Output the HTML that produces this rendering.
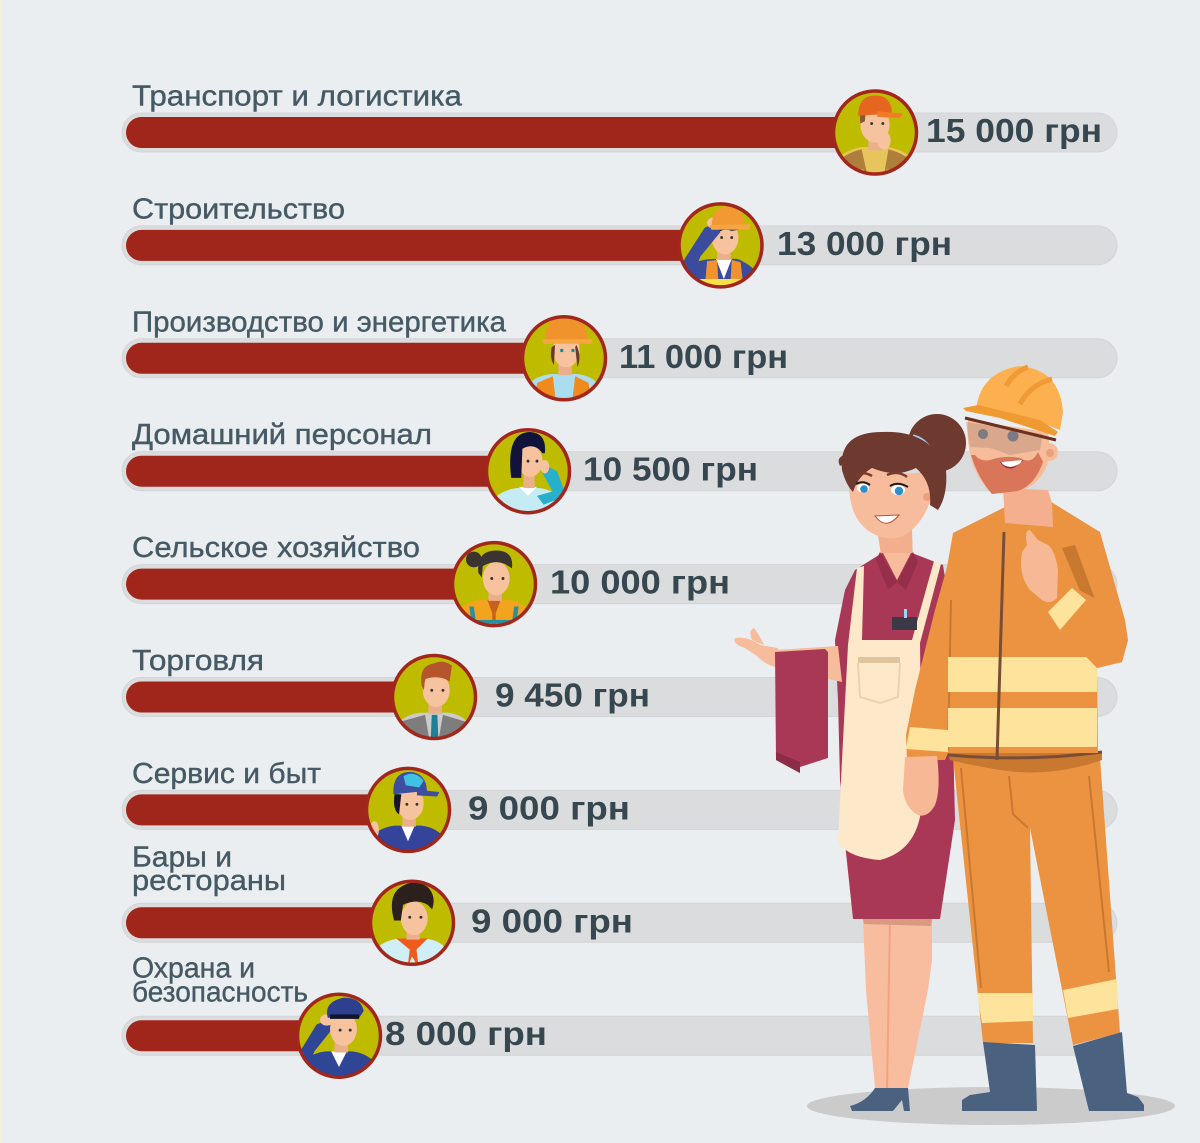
<!DOCTYPE html>
<html><head><meta charset="utf-8"><style>
html,body{margin:0;padding:0;background:#ebeef1;}
svg{display:block;}
.lb{font-family:"Liberation Sans","Noto Sans CJK SC",sans-serif;font-size:29px;fill:#465a65;stroke:#465a65;stroke-width:0.4;}
.vl{font-family:"Liberation Sans","Noto Sans CJK SC",sans-serif;font-size:33px;font-weight:bold;fill:#37474f;}
</style></head><body>
<svg width="1200" height="1143" viewBox="0 0 1200 1143" xmlns="http://www.w3.org/2000/svg">
<defs><clipPath id="cc"><circle cx="0" cy="0" r="41"/></clipPath></defs>
<rect width="1200" height="1143" fill="#ebeef1"/>
<rect x="0" y="0" width="1.5" height="1143" fill="#f1f2d6"/>

<!-- tracks -->
<g fill="#dbdcde" stroke="#d3d4d6" stroke-width="1">
<rect x="122" y="113" width="995" height="39" rx="19.5"/>
<rect x="122" y="225.9" width="995" height="39" rx="19.5"/>
<rect x="122" y="338.8" width="995" height="39" rx="19.5"/>
<rect x="122" y="451.7" width="995" height="39" rx="19.5"/>
<rect x="122" y="564.6" width="995" height="39" rx="19.5"/>
<rect x="122" y="677.5" width="995" height="39" rx="19.5"/>
<rect x="122" y="790.4" width="995" height="39" rx="19.5"/>
<rect x="122" y="903.3" width="995" height="39" rx="19.5"/>
<rect x="122" y="1016.2" width="995" height="39" rx="19.5"/>
</g>
<!-- red bars -->
<g fill="#a0251a">
<rect x="126" y="117" width="749" height="31" rx="15.5"/>
<rect x="126" y="229.9" width="595" height="31" rx="15.5"/>
<rect x="126" y="342.8" width="438" height="31" rx="15.5"/>
<rect x="126" y="455.7" width="402" height="31" rx="15.5"/>
<rect x="126" y="568.6" width="368" height="31" rx="15.5"/>
<rect x="126" y="681.5" width="308" height="31" rx="15.5"/>
<rect x="126" y="794.4" width="282" height="31" rx="15.5"/>
<rect x="126" y="907.3" width="286" height="31" rx="15.5"/>
<rect x="126" y="1020.2" width="213" height="31" rx="15.5"/>
</g>

<!-- labels -->
<text class="lb" x="132" y="105.5" textLength="330" lengthAdjust="spacingAndGlyphs">Транспорт и логистика</text>
<text class="lb" x="132" y="218.4" textLength="213" lengthAdjust="spacingAndGlyphs">Строительство</text>
<text class="lb" x="132" y="331.3" textLength="374" lengthAdjust="spacingAndGlyphs">Производство и энергетика</text>
<text class="lb" x="132" y="444.2" textLength="300" lengthAdjust="spacingAndGlyphs">Домашний персонал</text>
<text class="lb" x="132" y="557.1" textLength="288" lengthAdjust="spacingAndGlyphs">Сельское хозяйство</text>
<text class="lb" x="132" y="670" textLength="132" lengthAdjust="spacingAndGlyphs">Торговля</text>
<text class="lb" x="132" y="782.9" textLength="189" lengthAdjust="spacingAndGlyphs">Сервис и быт</text>
<text class="lb" x="132" y="866.7" textLength="100" lengthAdjust="spacingAndGlyphs">Бары и</text>
<text class="lb" x="132" y="890" textLength="154" lengthAdjust="spacingAndGlyphs">рестораны</text>
<text class="lb" x="132" y="977.7" textLength="123" lengthAdjust="spacingAndGlyphs">Охрана и</text>
<text class="lb" x="132" y="1001.7" textLength="176" lengthAdjust="spacingAndGlyphs">безопасность</text>

<!-- values -->
<text class="vl" x="926" y="142" textLength="176" lengthAdjust="spacingAndGlyphs">15 000 грн</text>
<text class="vl" x="777" y="254.9" textLength="175" lengthAdjust="spacingAndGlyphs">13 000 грн</text>
<text class="vl" x="619" y="367.8" textLength="169" lengthAdjust="spacingAndGlyphs">11 000 грн</text>
<text class="vl" x="583" y="480.7" textLength="175" lengthAdjust="spacingAndGlyphs">10 500 грн</text>
<text class="vl" x="550" y="593.6" textLength="180" lengthAdjust="spacingAndGlyphs">10 000 грн</text>
<text class="vl" x="495" y="706.5" textLength="155" lengthAdjust="spacingAndGlyphs">9 450 грн</text>
<text class="vl" x="468" y="819.4" textLength="162" lengthAdjust="spacingAndGlyphs">9 000 грн</text>
<text class="vl" x="471" y="932.3" textLength="162" lengthAdjust="spacingAndGlyphs">9 000 грн</text>
<text class="vl" x="385" y="1045.2" textLength="162" lengthAdjust="spacingAndGlyphs">8 000 грн</text>

<!-- avatar 1 -->
<g transform="translate(875,132.5)">
<circle r="42" fill="#bfbc00"/>
<g clip-path="url(#cc)"><g transform="scale(1.12)">
<path d="M-42 50 L-38 30 Q-32 17 -12 13 L12 13 Q32 17 38 30 L42 50Z" fill="#e8c45c"/>
<path d="M-38 50 L-34 28 Q-28 19 -12 15 L-4 50Z" fill="#ad7f3a"/>
<path d="M38 50 L34 28 Q28 19 12 15 L6 50Z" fill="#ad7f3a"/>
<rect x="-22" y="33" width="12" height="5" fill="#dcc07a"/><rect x="10" y="33" width="12" height="5" fill="#dcc07a"/>
<rect x="-6" y="0" width="12" height="16" fill="#eab08c"/>
<ellipse cx="0" cy="-7" rx="13" ry="16" fill="#f6c39e"/>
<path d="M-13 -8 Q-15 -20 -8 -22 L-9 -10Z" fill="#8b5a2b"/>
<path d="M-15 -15 Q-15 -33 0 -33 Q15 -33 15 -17Z" fill="#e5661e"/>
<path d="M2 -19 L25 -17 L22 -13 L2 -14Z" fill="#f27a28"/>
<circle cx="-3" cy="-8" r="1.3" fill="#333"/><circle cx="7" cy="-8" r="1.3" fill="#333"/>
<ellipse cx="8" cy="7" rx="6" ry="8" fill="#f6c39e"/>
</g></g>
<circle r="41.5" fill="none" stroke="#a1261b" stroke-width="3.5"/>
</g>

<!-- avatar 2 -->
<g transform="translate(720.5,245.4)">
<circle r="42" fill="#bfbc00"/>
<g clip-path="url(#cc)"><g transform="scale(1.12)">
<path d="M-42 50 L-38 26 Q-25 12 -5 12 L15 12 Q30 18 36 30 L42 50Z" fill="#3b4c9f"/>
<polygon points="-4,12 10,12 3,30" fill="#ffffff"/>
<polygon points="-12,14 -3,13 -1,50 -15,50" fill="#f0932f"/>
<polygon points="10,13 18,15 22,50 8,50" fill="#f0932f"/>
<rect x="-42" y="30" width="84" height="6" fill="#f8e04a"/>
<rect x="-3" y="-2" width="12" height="15" fill="#eab08c"/>
<ellipse cx="4" cy="-7" rx="12" ry="15" fill="#f6c39e"/>
<path d="M-8 -14 Q-6 -22 6 -20 Q14 -20 16 -14 L10 -13 Q2 -16 -4 -10Z" fill="#1a1a2a"/>
<path d="M-42 40 L-32 12 L-14 -16 L-4 -20 L0 -12 L-18 10 L-28 36Z" fill="#3b4c9f"/>
<ellipse cx="-6" cy="-20" rx="6" ry="5" fill="#f6c39e"/>
<path d="M-8 -16 Q-8 -35 7 -35 Q21 -34 21 -18Z" fill="#f29934"/>
<polygon points="-10,-18 27,-19 25,-14 -8,-14" fill="#f6a640"/>
<circle cx="1" cy="-7" r="1.3" fill="#333"/><circle cx="10" cy="-7" r="1.3" fill="#333"/>
</g></g>
<circle r="41.5" fill="none" stroke="#a1261b" stroke-width="3.5"/>
</g>

<!-- avatar 3 -->
<g transform="translate(564,358.3)">
<circle r="42" fill="#bfbc00"/>
<g clip-path="url(#cc)"><g transform="scale(1.12)">
<path d="M-40 50 L-36 28 Q-28 16 -12 14 L12 14 Q28 16 34 28 L40 50Z" fill="#a9ddef"/>
<polygon points="-24,22 -10,16 -6,50 -28,50" fill="#f08a1d"/>
<polygon points="10,16 22,22 26,50 6,50" fill="#f08a1d"/>
<rect x="-30" y="36" width="60" height="5" fill="#f7d53c"/>
<rect x="-5" y="0" width="12" height="15" fill="#eab08c"/>
<ellipse cx="2" cy="-7" rx="12" ry="15" fill="#f6c39e"/>
<path d="M-11 -10 Q-13 0 -9 6 L-8 -12Z" fill="#6b3a2a"/>
<path d="M11 -12 Q16 -2 12 8 L10 -10Z" fill="#6b3a2a"/>
<path d="M-17 -15 Q-17 -38 2 -38 Q20 -38 21 -17Z" fill="#f0932c"/>
<polygon points="-20,-17 26,-17 24,-13 -18,-13" fill="#f6a640"/>
<circle cx="-2" cy="-7" r="1.5" fill="#1a8a8a"/><circle cx="8" cy="-7" r="1.5" fill="#1a8a8a"/>
</g></g>
<circle r="41.5" fill="none" stroke="#a1261b" stroke-width="3.5"/>
</g>

<!-- avatar 4 -->
<g transform="translate(528,471.2)">
<circle r="42" fill="#bfbc00"/>
<g clip-path="url(#cc)"><g transform="scale(1.12)">
<path d="M-38 50 L-34 28 Q-25 17 -10 15 L10 15 Q25 17 32 28 L38 50Z" fill="#c5ecf4"/>
<polygon points="-8,14 8,14 0,22" fill="#ffffff"/>
<polygon points="14,30 34,22 26,0 18,-4 12,0 22,18 8,22" fill="#26b0cb"/>
<rect x="-4" y="2" width="10" height="13" fill="#eab08c"/>
<ellipse cx="2" cy="-9" rx="11" ry="14" fill="#f6c39e"/>
<path d="M-15 6 Q-20 -35 2 -35 Q17 -34 15 -16 L13 -16 Q6 -26 -5 -20 L-6 6Z" fill="#11133b"/>
<ellipse cx="15" cy="-4" rx="4" ry="6" fill="#f6c39e"/>
<circle cx="0" cy="-9" r="1.3" fill="#333"/><circle cx="8" cy="-9" r="1.3" fill="#333"/>
</g></g>
<circle r="41.5" fill="none" stroke="#a1261b" stroke-width="3.5"/>
</g>

<!-- avatar 5 -->
<g transform="translate(494,584.1)">
<circle r="42" fill="#bfbc00"/>
<g clip-path="url(#cc)"><g transform="scale(1.12)">
<path d="M-40 50 L-36 28 Q-28 16 -12 14 L12 14 Q28 16 34 28 L40 50Z" fill="#f3a41e"/>
<polygon points="-6,14 6,14 0,30" fill="#c8601c"/>
<rect x="-1.5" y="18" width="3" height="32" fill="#c8601c"/>
<polygon points="-22,20 -18,20 -14,50 -18,50" fill="#2990a3"/>
<polygon points="18,20 22,20 18,50 14,50" fill="#2990a3"/>
<rect x="-18" y="32" width="36" height="3" fill="#2990a3"/>
<rect x="-5" y="0" width="12" height="15" fill="#eab08c"/>
<ellipse cx="2" cy="-5" rx="12" ry="15" fill="#f6c39e"/>
<circle cx="-18" cy="-22" r="7" fill="#3b3330"/>
<path d="M-14 -10 Q-16 -30 2 -30 Q18 -30 16 -14 L10 -18 Q0 -22 -10 -16 L-11 -6Z" fill="#3b3330"/>
<circle cx="-2" cy="-5" r="1.3" fill="#333"/><circle cx="8" cy="-5" r="1.3" fill="#333"/>
</g></g>
<circle r="41.5" fill="none" stroke="#a1261b" stroke-width="3.5"/>
</g>

<!-- avatar 6 -->
<g transform="translate(434,697)">
<circle r="42" fill="#bfbc00"/>
<g clip-path="url(#cc)"><g transform="scale(1.12)">
<path d="M-40 50 L-36 28 Q-28 16 -12 14 L12 14 Q28 16 34 28 L40 50Z" fill="#cbcbcb"/>
<polygon points="-30,22 -8,16 -2,50 -34,50" fill="#7d7d7d"/>
<polygon points="8,16 28,22 32,50 2,50" fill="#7d7d7d"/>
<polygon points="-2,16 3,16 4,40 0,46 -3,40" fill="#1e7f95"/>
<rect x="-5" y="0" width="12" height="15" fill="#eab08c"/>
<ellipse cx="2" cy="-6" rx="12" ry="15" fill="#f6c39e"/>
<path d="M-11 -10 Q-14 -28 0 -30 Q8 -34 16 -28 L14 -14 Q4 -20 -8 -16 L-9 -6Z" fill="#b4552b"/>
<circle cx="-2" cy="-6" r="1.3" fill="#333"/><circle cx="8" cy="-6" r="1.3" fill="#333"/>
</g></g>
<circle r="41.5" fill="none" stroke="#a1261b" stroke-width="3.5"/>
</g>

<!-- avatar 7 -->
<g transform="translate(408,809.9)">
<circle r="42" fill="#bfbc00"/>
<g clip-path="url(#cc)"><g transform="scale(1.12)">
<path d="M-40 50 L-36 28 Q-28 16 -12 14 L12 14 Q28 16 34 28 L40 50Z" fill="#34449b"/>
<polygon points="-6,14 6,14 0,28" fill="#ffffff"/>
<rect x="-30" y="34" width="14" height="3" fill="#5a6ab0"/>
<ellipse cx="-30" cy="18" rx="4" ry="8" fill="#f6c39e"/>
<rect x="-5" y="0" width="12" height="15" fill="#eab08c"/>
<ellipse cx="2" cy="-6" rx="12" ry="15" fill="#f6c39e"/>
<path d="M-12 -14 Q-14 0 -8 4 L-6 -14Z" fill="#15152a"/>
<path d="M-13 -14 Q-14 -34 2 -34 Q16 -33 17 -17Z" fill="#3c4ea0"/>
<path d="M-4 -30 Q6 -36 14 -26 L10 -20 L-2 -22Z" fill="#40c0e2"/>
<polygon points="8,-18 28,-16 26,-12 8,-13" fill="#3c4ea0"/>
<circle cx="-1" cy="-5" r="1.3" fill="#333"/><circle cx="8" cy="-5" r="1.3" fill="#333"/>
</g></g>
<circle r="41.5" fill="none" stroke="#a1261b" stroke-width="3.5"/>
</g>

<!-- avatar 8 -->
<g transform="translate(412,922.8)">
<circle r="42" fill="#bfbc00"/>
<g clip-path="url(#cc)"><g transform="scale(1.12)">
<path d="M-40 50 L-36 28 Q-28 16 -12 14 L12 14 Q28 16 34 28 L40 50Z" fill="#d0eef6"/>
<polygon points="-14,14 14,14 4,24 6,40 0,30 -4,40 -2,24" fill="#f05a1c"/>
<rect x="-5" y="0" width="12" height="15" fill="#eab08c"/>
<ellipse cx="2" cy="-4" rx="12" ry="15" fill="#f6c39e"/>
<path d="M-16 -2 Q-22 -24 -10 -32 Q2 -40 14 -32 Q22 -24 18 -12 L14 -16 Q4 -22 -8 -16 L-10 -2Z" fill="#2b201c"/>
<circle cx="-2" cy="-5" r="1.3" fill="#333"/><circle cx="8" cy="-5" r="1.3" fill="#333"/>
</g></g>
<circle r="41.5" fill="none" stroke="#a1261b" stroke-width="3.5"/>
</g>

<!-- avatar 9 -->
<g transform="translate(339,1035.7)">
<circle r="42" fill="#bfbc00"/>
<g clip-path="url(#cc)"><g transform="scale(1.12)">
<path d="M-40 50 L-36 28 Q-28 16 -12 14 L12 14 Q28 16 34 28 L40 50Z" fill="#2f4595"/>
<polygon points="-7,14 7,14 0,28" fill="#ffffff"/>
<rect x="-12" y="36" width="10" height="3" fill="#e0b040"/>
<path d="M-42 40 L-36 16 L-20 -10 L-10 -14 L-6 -6 L-22 14 L-30 36Z" fill="#2f4595"/>
<rect x="-4" y="0" width="12" height="15" fill="#eab08c"/>
<ellipse cx="4" cy="-6" rx="12" ry="15" fill="#f6c39e"/>
<ellipse cx="-11" cy="-14" rx="6" ry="5" fill="#f6c39e"/>
<path d="M-10 -16 Q-14 -30 4 -34 Q20 -34 22 -22 L18 -16Z" fill="#2d3f8e"/>
<rect x="-8" y="-19" width="26" height="4" fill="#12142a"/>
<circle cx="1" cy="-5" r="1.3" fill="#333"/><circle cx="10" cy="-5" r="1.3" fill="#333"/>
</g></g>
<circle r="41.5" fill="none" stroke="#a1261b" stroke-width="3.5"/>
</g>

<!-- shadow -->
<ellipse cx="991" cy="1106" rx="184" ry="19" fill="#cbcbcb"/>

<!-- WOMAN -->
<circle cx="937" cy="443" r="29" fill="#6e3a30"/>
<path d="M913 436 Q932 440 940 472" stroke="#a9c9f2" stroke-width="3" fill="none"/>
<path d="M878 535 L912 528 L913 562 L882 562Z" fill="#f3ae8e"/>
<!-- legs -->
<polygon points="863,919 932,919 932,960 928,990 908,1088 875,1088 866,990" fill="#f8bd9e"/>
<line x1="890" y1="920" x2="887" y2="1088" stroke="#f2a184" stroke-width="2"/>
<path d="M875 1088 L908 1088 L910 1111 L904 1111 L902 1100 L893 1111 L852 1111 L850 1106 Q866 1102 875 1088Z" fill="#4b6180"/>
<!-- torso / skirt -->
<polygon points="855,570 882,553 912,553 943,565 950,610 955,820 940,919 853,919 845,843 840,780 838,700 835,640 845,590" fill="#a93857"/>
<polygon points="863,919 932,919 931,926 864,924" fill="#d99a80"/>
<polygon points="883,553 897,580 911,553" fill="#f7bc9c"/>
<polygon points="880,552 897,582 888,590 876,560" fill="#952f4c"/>
<polygon points="913,552 897,582 906,590 918,562" fill="#952f4c"/>
<!-- forearm and hand -->
<polygon points="775,650 838,646 842,682 778,668" fill="#f7bc9c"/>
<path d="M778 648 L760 645 Q748 636 735 638 Q732 644 745 648 L757 656 Q766 666 780 668Z" fill="#f7bc9c"/>
<path d="M752 640 Q748 630 754 628 Q760 636 764 645Z" fill="#f7bc9c"/>
<!-- towel -->
<polygon points="775,652 825,649 828,652 828,758 800,767 800,773 776,760" fill="#a93857"/>
<polygon points="776,752 800,762 800,773 776,760" fill="#8c2c47"/>
<!-- apron -->
<path d="M857 568 L864 566 L862 640 L912 640 L934 561 L941 564 L920 643 L922 800 Q920 850 880 860 Q850 858 838 843 L842 760 L848 645Z" fill="#fde8c9"/>
<rect x="858" y="657" width="42" height="6" fill="#e0c49c"/>
<path d="M858 663 L860 697 L880 703 L898 697 L900 663" stroke="#ecd3b0" stroke-width="2" fill="none"/>
<rect x="892" y="617" width="25" height="13" fill="#3b3946"/>
<rect x="904" y="609" width="3" height="9" fill="#9fd4f0"/>
<!-- head -->
<path d="M850 472 Q845 515 870 532 Q888 543 905 535 Q925 522 932 495 L930 470 Q905 478 880 468 Q860 470 850 472Z" fill="#f7bc9c"/>
<circle cx="926" cy="496" r="8" fill="#f7bc9c"/>
<circle cx="927" cy="497" r="4" fill="#eb9f80"/>
<path d="M842 470 Q838 432 882 432 Q932 430 946 470 Q948 495 938 510 L930 505 Q932 482 916 468 Q896 478 872 468 Q858 476 853 492 Q846 485 842 470Z" fill="#6e3a30"/>
<path d="M844 455 Q836 458 840 466 L848 462Z" fill="#6e3a30"/>
<ellipse cx="863" cy="488" rx="6" ry="4.5" fill="#fff"/>
<ellipse cx="898" cy="490" rx="7" ry="5" fill="#fff"/>
<circle cx="864" cy="489" r="3.8" fill="#2f8fca"/>
<circle cx="899" cy="491" r="4.2" fill="#2f8fca"/>
<path d="M856 484 Q863 480 870 485" stroke="#1a1a1a" stroke-width="2" fill="none"/>
<path d="M890 486 Q898 481 908 487" stroke="#1a1a1a" stroke-width="2" fill="none"/>
<path d="M856 475 Q864 471 872 476" stroke="#7a3a2c" stroke-width="2.5" fill="none"/>
<path d="M887 475 Q898 470 907 477" stroke="#7a3a2c" stroke-width="2.5" fill="none"/>
<path d="M875 516 Q886 531 899 515Z" fill="#fff" stroke="#c0503a" stroke-width="1"/>

<!-- MAN -->
<!-- trousers -->
<polygon points="953,758 1100,758 1120,1033 1073,1045 1030,828 1033,1043 983,1043" fill="#ec9342"/>
<path d="M948 753 L1102 753 L1102 760 Q1050 778 1000 770 Q970 765 950 760Z" fill="#c97830"/>
<path d="M948 755 Q1030 762 1102 752" stroke="#7a4e36" stroke-width="3" fill="none"/>
<path d="M961 768 L981 988" stroke="#c97830" stroke-width="2" fill="none"/>
<path d="M1009 776 L1013 814 L1028 828" stroke="#c97830" stroke-width="2" fill="none"/>
<path d="M1089 776 L1109 972" stroke="#c97830" stroke-width="2" fill="none"/>
<polygon points="977,993 1033,993 1033,1021 982,1023" fill="#fde39b"/>
<polygon points="1063,990 1117,979 1118,1009 1068,1018" fill="#fde39b"/>
<!-- boots -->
<polygon points="983,1042 1035,1045 1037,1111 962,1111 962,1100 970,1095 990,1092" fill="#4b6180"/>
<polygon points="1073,1046 1122,1032 1127,1093 1138,1097 1144,1105 1144,1111 1089,1111" fill="#4b6180"/>
<!-- jacket -->
<polygon points="947,567 953,533 1005,507 1048,500 1100,532 1125,620 1128,640 1122,662 1097,668 1098,753 948,753 945,760 907,760 906,735 915,690 935,610" fill="#ec9342"/>
<path d="M951 600 L948 750" stroke="#c97830" stroke-width="2" fill="none"/>
<polygon points="1062,548 1075,545 1097,605 1088,610" fill="#c97830"/>
<polygon points="948,657 1097,657 1097,692 948,692" fill="#fde39b"/>
<polygon points="948,708 1097,708 1097,747 948,747" fill="#fde39b"/>
<polygon points="910,727 948,730 948,752 906,749" fill="#fde39b"/>
<line x1="1004" y1="532" x2="997" y2="760" stroke="#7a4e36" stroke-width="3"/>
<!-- raised forearm -->
<polygon points="1045,615 1075,588 1098,600 1128,640 1122,662 1097,668 1070,640" fill="#ec9342"/>
<polygon points="1048,612 1072,588 1086,600 1060,630" fill="#fde39b"/>
<path d="M1022 552 Q1018 575 1030 590 L1042 600 Q1050 605 1057 598 L1058 570 Q1055 550 1048 545 L1038 540 L1030 530 Q1024 530 1027 545Z" fill="#f7b995"/>
<!-- left hand -->
<path d="M905 757 L937 756 Q941 790 935 805 Q928 818 918 815 Q905 808 903 790Z" fill="#f7b995"/>
<!-- neck -->
<polygon points="1003,488 1048,490 1052,503 1053,527 1005,523" fill="#f4b08e"/>
<!-- face -->
<path d="M968 420 L1048 432 Q1052 455 1045 470 Q1035 488 1018 491 L992 494 Q978 480 972 462 Q966 440 968 420Z" fill="#f7bd9a"/>
<circle cx="1049" cy="452" r="9" fill="#f7bd9a"/>
<circle cx="1050" cy="453" r="4" fill="#eba07e"/>
<path d="M971 455 Q978 478 992 494 L1018 491 Q1035 485 1043 462 L1038 452 Q1032 465 1020 458 Q1005 455 990 460 Q980 462 975 455Z" fill="#d97558"/>
<path d="M1000 462 Q1010 476 1023 460Z" fill="#9b1b3c"/>
<path d="M1001 462 L1022 460 Q1020 466 1010 467 Q1003 466 1001 462Z" fill="#ffffff"/>
<circle cx="983" cy="434" r="5" fill="#5f7288"/>
<circle cx="1013" cy="436" r="5.5" fill="#5f7288"/>
<polygon points="966,422 1043,434 1040,450 1010,455 990,448 970,447" fill="#a98878" opacity="0.4"/>
<line x1="965" y1="418" x2="1056" y2="440" stroke="#6b3020" stroke-width="3"/>
<!-- helmet -->
<path d="M976 410 Q980 372 1020 366 Q1060 370 1063 412 L1060 430 L1040 422Z" fill="#fdb04f"/>
<path d="M1006 386 Q1014 372 1028 367" stroke="#ef9a34" stroke-width="5" fill="none"/>
<path d="M1020 404 Q1030 385 1052 379" stroke="#ef9a34" stroke-width="5" fill="none"/>
<polygon points="963,408 978,405 1040,420 1058,432 1055,436 1000,418 966,411" fill="#f09a32"/>
</svg>
</body></html>
